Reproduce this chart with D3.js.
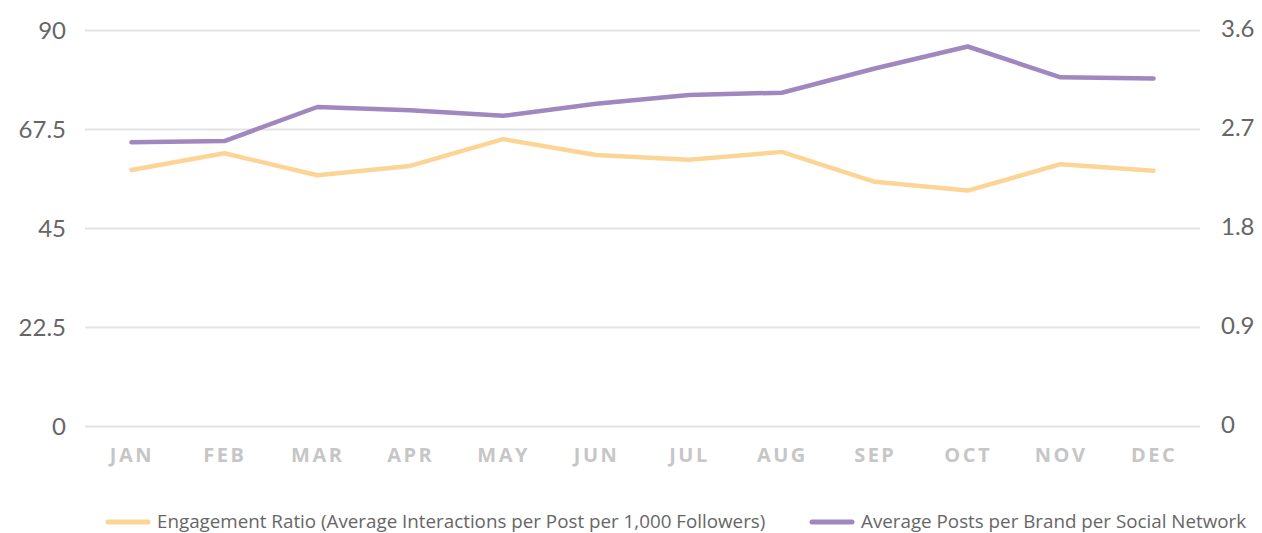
<!DOCTYPE html>
<html>
<head>
<meta charset="utf-8">
<script src="https://cdn.jsdelivr.net/npm/d3@7"></script>
<style>
  body { margin: 0; background: #fff; }
  #chart { width: 1262px; height: 533px; }
  text { font-family: Lato, "Open Sans", sans-serif; }
</style>
</head>
<body>
<div id="chart"></div>
<script>
//Datos
const months = ['JAN','FEB','MAR','APR','MAY','JUN','JUL','AUG','SEP','OCT','NOV','DEC'];
const engagement = [58.2, 62.0, 57.0, 59.1, 65.2, 61.6, 60.5, 62.3, 55.5, 53.5, 59.5, 58.0];
const posts = [2.58, 2.59, 2.90, 2.87, 2.82, 2.93, 3.01, 3.03, 3.25, 3.45, 3.17, 3.16];
const leftTicks = [0, 22.5, 45, 67.5, 90];
const rightTicks = [0, 0.9, 1.8, 2.7, 3.6];
const legendLabels = ['Engagement Ratio (Average Interactions per Post per 1,000 Followers)', 'Average Posts per Brand per Social Network'];

//Colores fijos
const COLOR_ENG = '#fcd596',
COLOR_POSTS = '#a087c0',
COLOR_GRID = '#e3e3e3',
COLOR_TEXT = '#666666',
COLOR_MONTH = '#c6c6c6';

let margin = {top: 30, right: 62, bottom: 107, left: 85},
    width = 1262 - margin.left - margin.right,
    height = 533 - margin.top - margin.bottom;

let svg = d3.select('#chart')
    .append('svg')
        .attr('width', 1262)
        .attr('height', 533)
    .append('g')
        .attr('transform', 'translate(' + margin.left + ',' + margin.top + ')');

let x = d3.scalePoint()
    .domain(months)
    .range([0, width])
    .padding(0.5);

let yLeft = d3.scaleLinear()
    .domain([0, 90])
    .range([height, 0]);

let yRight = d3.scaleLinear()
    .domain([0, 3.6])
    .range([height, 0]);

//Rejilla + eje izquierdo
let yAxisLeft = function(g) {
    g.call(d3.axisLeft(yLeft).tickValues(leftTicks).tickSize(-width).tickPadding(19).tickFormat(d3.format('')));
    g.call(function(g){ g.selectAll('.domain').remove(); });
    g.selectAll('.tick line').attr('stroke', COLOR_GRID).attr('stroke-width', 2);
    g.selectAll('.tick text')
        .attr('fill', COLOR_TEXT)
        .style('font-size', '24px')
        .attr('dy', '0.36em');
};

svg.append('g').call(yAxisLeft);

let yAxisRight = function(g) {
    g.call(d3.axisRight(yRight).tickValues(rightTicks).tickSize(0).tickPadding(21).tickFormat(d3.format('')));
    g.call(function(g){ g.selectAll('.domain').remove(); });
    g.selectAll('.tick text')
        .attr('fill', COLOR_TEXT)
        .style('font-size', '24px')
        .attr('dy', '0.26em');
};

svg.append('g')
    .attr('transform', 'translate(' + width + ',0)')
    .call(yAxisRight);

let xAxis = function(g) {
    g.call(d3.axisBottom(x).tickSize(0).tickPadding(22));
    g.call(function(g){ g.selectAll('.domain').remove(); });
    g.selectAll('.tick text')
        .attr('fill', COLOR_MONTH)
        .style('font-family', '"Open Sans", sans-serif')
        .style('font-weight', '700')
        .style('font-size', '20px')
        .style('letter-spacing', '2.5px');
};

svg.append('g')
    .attr('transform', 'translate(0,' + height + ')')
    .call(xAxis);

//Lineas
let lineEng = d3.line()
    .x(function(d, i) { return x(months[i]); })
    .y(function(d) { return yLeft(d); });

let linePosts = d3.line()
    .x(function(d, i) { return x(months[i]); })
    .y(function(d) { return yRight(d); });

svg.append('path')
    .datum(engagement)
    .attr('fill', 'none')
    .attr('stroke', COLOR_ENG)
    .attr('stroke-width', 4.5)
    .attr('stroke-linecap', 'round')
    .attr('stroke-linejoin', 'round')
    .attr('d', lineEng);

svg.append('path')
    .datum(posts)
    .attr('fill', 'none')
    .attr('stroke', COLOR_POSTS)
    .attr('stroke-width', 4.5)
    .attr('stroke-linecap', 'round')
    .attr('stroke-linejoin', 'round')
    .attr('d', linePosts);

//Leyenda
let legendX = [108, 812];
let legendColors = [COLOR_ENG, COLOR_POSTS];
let legend = d3.select('#chart svg').append('g');

let items = legend.selectAll('g')
    .data(legendLabels)
    .enter()
    .append('g')
    .attr('transform', function(d, i) { return 'translate(' + legendX[i] + ',522)'; });

items.append('line')
    .attr('x1', 0).attr('x2', 40)
    .attr('stroke', function(d, i) { return legendColors[i]; })
    .attr('stroke-width', 5)
    .attr('stroke-linecap', 'round');

items.append('text')
    .attr('x', 49)
    .attr('dy', '0.34em')
    .attr('fill', COLOR_TEXT)
    .style('font-family', '"Open Sans", sans-serif')
    .style('font-size', '18.8px')
    .text(function(d) { return d; });
</script>
</body>
</html>
